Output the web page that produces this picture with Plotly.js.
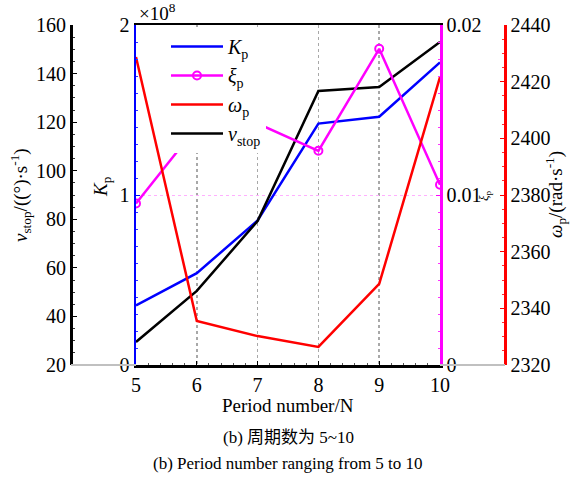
<!DOCTYPE html>
<html>
<head>
<meta charset="utf-8">
<script src="https://cdn.plot.ly/plotly-3.0.1.min.js"></script>
<style>html,body{margin:0;padding:0;background:#fff;}#chart{width:572px;height:480px;}</style>
</head>
<body>
<div id="chart"></div>
<script>
const periods = [5, 6, 7, 8, 9, 10];
const kp = [0.35e8, 0.54e8, 0.85e8, 1.42e8, 1.46e8, 1.78e8];
const xi = [0.0095, 0.0140, 0.0142, 0.0126, 0.0186, 0.0106];
const omega = [2428.7, 2335.5, 2330.2, 2326.4, 2348.6, 2421.6];
const vstop = [29.5, 50.5, 79.3, 132.8, 134.5, 153.0];
const vTicks = [20, 40, 60, 80, 100, 120, 140, 160];
const kpTicks = [0, 1e8, 2e8];
const kpTickText = ['0', '1', '2'];
const xiTicks = [0, 0.01, 0.02];
const xiTickText = ['0', '0.01', '0.02'];
const omegaTicks = [2320, 2340, 2360, 2380, 2400, 2420, 2440];

const W = 572, H = 480;
const px = v => v / W;
const py = v => 1 - v / H;
const FONT = 'Liberation Serif';
const CJK = 'Liberation Serif, Noto Sans CJK SC';

const traces = [
  {x: periods, y: kp, name: '<i>K</i><sub>p</sub>', type: 'scatter', mode: 'lines',
   line: {color: '#0000ff', width: 2.5}, xaxis: 'x', yaxis: 'y'},
  {x: periods, y: xi, name: '<i>ξ</i><sub>p</sub>', type: 'scatter', mode: 'lines+markers',
   line: {color: '#ff00ff', width: 2.5}, marker: {symbol: 'circle-open', size: 8, color: '#ff00ff', line: {width: 2, color: '#ff00ff'}},
   xaxis: 'x', yaxis: 'y3'},
  {x: periods, y: omega, name: '<i>ω</i><sub>p</sub>', type: 'scatter', mode: 'lines',
   line: {color: '#ff0000', width: 2.5}, xaxis: 'x', yaxis: 'y4'},
  {x: periods, y: vstop, name: '<i>v</i><sub>stop</sub>', type: 'scatter', mode: 'lines',
   line: {color: '#000000', width: 2.5}, xaxis: 'x', yaxis: 'y2'}
];

const tf = () => ({family: FONT, size: 20, color: '#000'});

function ann(x, y, text, size, extra) {
  return Object.assign({xref: 'paper', yref: 'paper', x: px(x), y: py(y), text: text,
    xanchor: 'center', yanchor: 'middle', showarrow: false,
    font: {family: FONT, size: size, color: '#000'}}, extra || {});
}

const layout = {
  width: W, height: H,
  margin: {l: 0, r: 0, t: 0, b: 0},
  font: {family: FONT, size: 20, color: '#000'},
  paper_bgcolor: '#fff', plot_bgcolor: '#fff',
  showlegend: true,
  legend: {x: px(166), y: py(27), xanchor: 'left', yanchor: 'top', bgcolor: '#ffffff',
           borderwidth: 0, itemwidth: 52, font: {family: FONT, size: 20, color: '#000'}, tracegroupgap: 0},
  xaxis: {domain: [px(136), px(440)], range: [5, 10], tickvals: periods,
          showline: true, linecolor: '#000', linewidth: 2.5, mirror: true,
          ticks: 'inside', ticklen: 4, tickcolor: '#000',
          minor: {dtick: 0.2, ticks: 'inside', ticklen: 2, tickcolor: '#555', showgrid: false},
          showgrid: true, gridcolor: '#a8a8a8', griddash: 'dot', gridwidth: 1.5,
          zeroline: false, tickfont: tf(), anchor: 'y'},
  yaxis: {domain: [py(365), py(25)], range: [0, 2e8], tickvals: kpTicks, ticktext: kpTickText,
          showline: true, linecolor: '#0000ff', linewidth: 2.5, ticks: 'inside', ticklen: 4,
          minor: {dtick: 0.1e8, ticks: 'inside', ticklen: 2, tickcolor: '#3333ff', showgrid: false},
          tickcolor: '#0000ff', showgrid: false, zeroline: false, tickfont: tf(),
          anchor: 'x', side: 'left'},
  yaxis2: {overlaying: 'y', side: 'left', anchor: 'free', position: px(71), range: [20, 160],
           tickvals: vTicks, showline: true, linecolor: '#000', linewidth: 2.5, ticks: 'inside',
           minor: {dtick: 5, ticks: 'inside', ticklen: 2, tickcolor: '#333', showgrid: false},
           ticklen: 4, tickcolor: '#000', showgrid: false, zeroline: false, tickfont: tf()},
  yaxis3: {overlaying: 'y', side: 'right', anchor: 'x', range: [0, 0.02], tickvals: xiTicks,
           ticktext: xiTickText, showline: true, linecolor: '#ff00ff', linewidth: 2.5,
           minor: {dtick: 0.001, ticks: 'inside', ticklen: 2, tickcolor: '#ff33ff', showgrid: false},
           ticks: 'inside', ticklen: 4, tickcolor: '#ff00ff', showgrid: true, gridcolor: '#ffb0ff',
           griddash: 'dot', zeroline: false, tickfont: tf()},
  yaxis4: {overlaying: 'y', side: 'right', anchor: 'free', position: px(505), range: [2320, 2440],
           tickvals: omegaTicks, showline: true, linecolor: '#ff0000', linewidth: 2.5, ticks: 'inside',
           minor: {dtick: 5, ticks: 'inside', ticklen: 2, tickcolor: '#ff3333', showgrid: false},
           ticklen: 4, tickcolor: '#ff0000', showgrid: false, zeroline: false, tickfont: tf()},
  shapes: [
    {type: 'line', xref: 'paper', yref: 'paper', x0: px(71), x1: px(136), y0: py(365), y1: py(365),
     line: {color: '#c0c0c0', width: 2}},
    {type: 'line', xref: 'paper', yref: 'paper', x0: px(440), x1: px(505), y0: py(365), y1: py(365),
     line: {color: '#c0c0c0', width: 2}}
  ],
  annotations: [
    ann(20, 195, '<i>v</i><sub>stop</sub>/((°)·s<sup>-1</sup>)', 19, {textangle: -90}),
    ann(102, 187, '<i>K</i><sub>p</sub>', 19, {textangle: -90}),
    ann(137, 12, '×10<sup>8</sup>', 19, {xanchor: 'left'}),
    ann(484, 196, '<i>ξ</i><sub>p</sub>', 13, {textangle: -90}),
    ann(555, 195, '<i>ω</i><sub>p</sub>/(rad·s<sup>-1</sup>)', 19, {textangle: -90}),
    ann(288, 405, 'Period number/N', 19),
    ann(288, 437, '(b) 周期数为 5~10', 17, {font: {family: CJK, size: 17, color: '#000'}}),
    ann(288, 463, '(b) Period number ranging from 5 to 10', 17)
  ]
};

Plotly.newPlot('chart', traces, layout, {displayModeBar: false, staticPlot: true});
</script>
</body>
</html>
